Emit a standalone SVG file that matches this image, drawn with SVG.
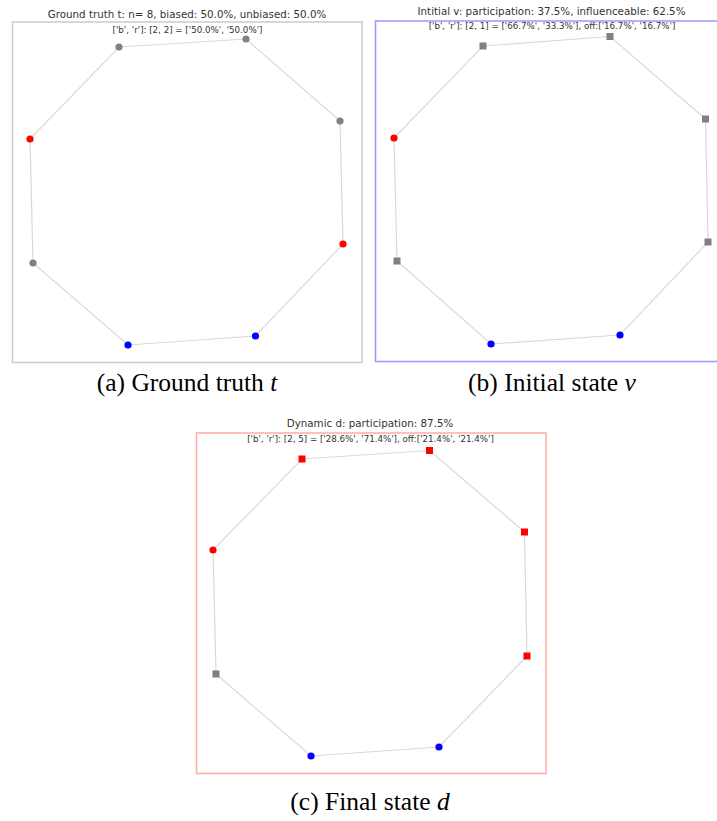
<svg xmlns="http://www.w3.org/2000/svg" width="717" height="821" viewBox="0 0 717 821">
<style>
.t{font-family:"DejaVu Sans",sans-serif;font-size:10.3px;fill:#333;text-anchor:middle}
.s{font-family:"DejaVu Sans",sans-serif;font-size:8.7px;fill:#333;text-anchor:middle}
.cap{font-family:"Liberation Serif",serif;font-size:25.5px;fill:#000;text-anchor:middle}
.e{fill:none;stroke:#d9d9d9;stroke-width:1.2}
.g{fill:#808080}.r{fill:#ff0000}.b{fill:#0000ff}
</style>
<rect width="717" height="821" fill="#fff"/>
<g id="panel-a">
<rect x="12.5" y="22" width="349.5" height="340.5" fill="none" stroke="#cccccc" stroke-width="1.5"/>
<text class="t" x="187" y="18">Ground truth t: n= 8, biased: 50.0%, unbiased: 50.0%</text>
<text class="s" x="187.5" y="33">['b', 'r']: [2, 2] = ['50.0%', '50.0%']</text>
</g>
<g id="edges-a"><polygon class="e" points="119,47 246,39 340,121 343,244 255.5,336 128,345 33,263 30,139"/></g>
<g id="nodes-a">
<circle class="g" cx="119" cy="47" r="3.6"/>
<circle class="g" cx="246" cy="39" r="3.6"/>
<circle class="g" cx="340" cy="121" r="3.6"/>
<circle class="r" cx="343" cy="244" r="3.6"/>
<circle class="b" cx="255.5" cy="336" r="3.6"/>
<circle class="b" cx="128" cy="345" r="3.6"/>
<circle class="g" cx="33" cy="263" r="3.6"/>
<circle class="r" cx="30" cy="139" r="3.6"/>
</g>
<g id="panel-b">
<rect x="375.5" y="21" width="360" height="340.5" fill="none" stroke="#9999ff" stroke-width="1.5"/>
<text class="t" x="551.5" y="15">Intitial v: participation: 37.5%, influenceable: 62.5%</text>
<text class="s" x="552" y="29">['b', 'r']: [2, 1] = ['66.7%', '33.3%'], off:['16.7%', '16.7%']</text>
</g>
<g id="edges-b"><polygon class="e" points="483,46 610,36.5 705.5,119 708,242 620,335 491,344 397,261 394,138"/></g>
<g id="nodes-b">
<rect class="g" x="479.5" y="42.5" width="7" height="7"/>
<rect class="g" x="606.5" y="33" width="7" height="7"/>
<rect class="g" x="702" y="115.5" width="7" height="7"/>
<rect class="g" x="704.5" y="238.5" width="7" height="7"/>
<circle class="b" cx="620" cy="335" r="3.6"/>
<circle class="b" cx="491" cy="344" r="3.6"/>
<rect class="g" x="393.5" y="257.5" width="7" height="7"/>
<circle class="r" cx="394" cy="138" r="3.6"/>
</g>
<g id="panel-c">
<rect x="196.5" y="433" width="349.5" height="340.5" fill="none" stroke="#ffaaaa" stroke-width="1.5"/>
<text class="t" x="370" y="427">Dynamic d: participation: 87.5%</text>
<text class="s" x="370.5" y="442">['b', 'r']: [2, 5] = ['28.6%', '71.4%'], off:['21.4%', '21.4%']</text>
</g>
<g id="edges-c"><polygon class="e" points="302,459 429.5,450.5 524.5,532 527,656 439,747 311,756 216,674 213,550"/></g>
<g id="nodes-c">
<rect class="r" x="298.5" y="455.5" width="7" height="7"/>
<rect class="r" x="426" y="447" width="7" height="7"/>
<rect class="r" x="521" y="528.5" width="7" height="7"/>
<rect class="r" x="523.5" y="652.5" width="7" height="7"/>
<circle class="b" cx="439" cy="747" r="3.6"/>
<circle class="b" cx="311" cy="756" r="3.6"/>
<rect class="g" x="212.5" y="670.5" width="7" height="7"/>
<circle class="r" cx="213" cy="550" r="3.6"/>
</g>
<g id="captions">
<text class="cap" x="187" y="391">(a) Ground truth <tspan font-style="italic">t</tspan></text>
<text class="cap" x="552" y="391">(b) Initial state <tspan font-style="italic">v</tspan></text>
<text class="cap" x="370" y="810">(c) Final state <tspan font-style="italic">d</tspan></text>
</g>
</svg>
